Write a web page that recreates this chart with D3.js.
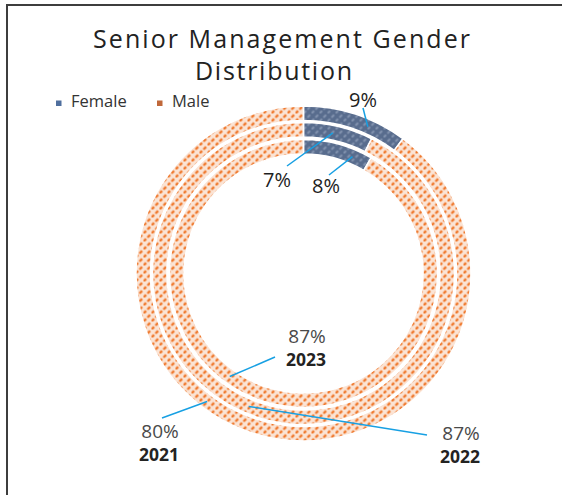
<!DOCTYPE html>
<html>
<head>
<meta charset="utf-8">
<script src="https://cdn.jsdelivr.net/npm/d3@7"></script>
<style>
  html, body { margin: 0; padding: 0; background: #fff; }
  svg { display: block; font-family: "Open Sans", "Noto Sans", sans-serif; }
</style>
</head>
<body>
<svg id="chart" width="562" height="495"></svg>
<script>
// Share of senior management by gender, one ring per year (outer = 2021)
const years = ["2021", "2022", "2023"];
const female = [9, 7, 8];
const male = [80, 87, 87];
const seriesNames = ["Female", "Male"];
const titleLines = ["Senior Management Gender", "Distribution"];

const svg = d3.select("#chart");
const W = 562, H = 495;
const cx = 303.5, cy = 273.5;

// Frame (top and left edges)
svg.append("path")
  .attr("d", `M7,${H} L7,5 L${W},5`)
  .attr("fill", "none")
  .attr("stroke", "#3d3d3d")
  .attr("stroke-width", 2);

// Fill patterns: dashed upward diagonals
const defs = svg.append("defs");
function diagPattern(id, bg, fg, width) {
  const p = defs.append("pattern").attr("id", id)
    .attr("patternUnits", "userSpaceOnUse").attr("width", 8).attr("height", 8);
  p.append("rect").attr("width", 8).attr("height", 8).attr("fill", bg);
  p.append("line").attr("x1", 0).attr("y1", 8).attr("x2", 8).attr("y2", 0)
    .attr("stroke", fg).attr("stroke-width", width)
    .attr("stroke-dasharray", "3.7 1.957");
}
diagPattern("patMale", "#fbe4d5", "#ef7426", 2.3);
diagPattern("patFemale", "#586c8d", "#8494b0", 2);

// Ring radii: index 0 (2021) is the outermost ring
const rings = [
  { inner: 153, outer: 167.5 },
  { inner: 136.5, outer: 151 },
  { inner: 119.5, outer: 134 }
];

const pie = d3.pie().sort(null).value(d => d.value);
const fills = { Female: "url(#patFemale)", Male: "url(#patMale)" };
const rowsFor = i => [
  { series: seriesNames[0], value: female[i] },
  { series: seriesNames[1], value: male[i] }
];

const g = svg.append("g").attr("transform", `translate(${cx},${cy})`);

years.forEach((yr, i) => {
  const arc = d3.arc().innerRadius(rings[i].inner).outerRadius(rings[i].outer);
  g.selectAll(null)
    .data(pie(rowsFor(i)))
    .enter().append("path")
    .attr("d", arc)
    .attr("fill", d => fills[d.data.series])
    .attr("stroke", "#fff")
    .attr("stroke-width", 1.5);
});

// Data labels with leader lines; anchor is a fraction along the slice
const ringMid = i => (rings[i].inner + rings[i].outer) / 2;
const labelLayout = [
  { ring: 0, series: 0, frac: 0.65, lx: 363, ly: 108, tx: 363, ty: 107 },
  { ring: 1, series: 0, frac: 0.44, lx: 287, ly: 166, tx: 277, ty: 187 },
  { ring: 2, series: 0, frac: 0.75, lx: 329, ly: 175, tx: 326, ty: 193 },
  { ring: 0, series: 1, frac: 0.558, lx: 162, ly: 418, tx: 160, ty: 439 },
  { ring: 1, series: 1, frac: 0.527, lx: 427, ly: 435, tx: 461, ty: 441 },
  { ring: 2, series: 1, frac: 0.562, lx: 275, ly: 357, tx: 307, ty: 344 }
];

labelLayout.forEach(L => {
  const i = L.ring;
  const s = pie(rowsFor(i))[L.series];
  const a = s.startAngle + (s.endAngle - s.startAngle) * L.frac;
  const r = ringMid(i);
  const px = cx + r * Math.sin(a), py = cy - r * Math.cos(a);
  svg.append("line")
    .attr("x1", L.lx).attr("y1", L.ly).attr("x2", px).attr("y2", py)
    .attr("stroke", "#17a0e3").attr("stroke-width", 1.5);

  const val = s.data.value + "%";
  if (L.series === 0) {
    svg.append("text").attr("x", L.tx).attr("y", L.ty)
      .attr("text-anchor", "middle").attr("font-size", 20)
      .attr("fill", "#1e1e1e").text(val);
  } else {
    svg.append("text").attr("x", L.tx).attr("y", L.ty - 1.5)
      .attr("text-anchor", "middle").attr("font-size", 19)
      .attr("fill", "#4a4a4a").text(val);
    svg.append("text").attr("x", L.tx - 1).attr("y", L.ty + 21.5)
      .attr("text-anchor", "middle").attr("font-size", 17.5)
      .attr("font-weight", "bold").attr("fill", "#232323").text(years[i]);
  }
});

// Title, letter-spaced
const titleX = [93, 195], titleY = [48, 80], titleW = [377, 157];
titleLines.forEach((t, k) => {
  svg.append("text")
    .attr("x", titleX[k]).attr("y", titleY[k])
    .attr("font-size", 25).attr("fill", "#222")
    .attr("textLength", titleW[k]).attr("lengthAdjust", "spacing")
    .text(t);
});

// Legend
const legendColors = ["#4f6f9e", "#c0683a"];
const legendX = [56, 157];
seriesNames.forEach((name, k) => {
  svg.append("rect").attr("x", legendX[k]).attr("y", 100.5)
    .attr("width", 5.5).attr("height", 5.5).attr("fill", legendColors[k]);
  svg.append("text").attr("x", legendX[k] + 15).attr("y", 107)
    .attr("font-size", 16.5).attr("fill", "#333").text(name);
});
</script>
</body>
</html>
